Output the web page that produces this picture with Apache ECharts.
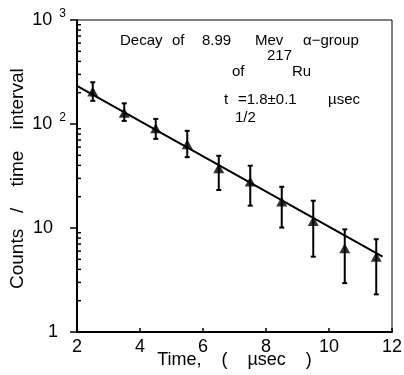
<!DOCTYPE html>
<html><head><meta charset="utf-8">
<script src="https://cdn.jsdelivr.net/npm/echarts@6/dist/echarts.min.js"></script>
<style>html,body{margin:0;padding:0;background:#fff}#c{width:404px;height:375px}</style>
</head><body><div id="c"></div>
<script>
// Data
const times = [2.5, 3.5, 4.5, 5.5, 6.5, 7.5, 8.5, 9.5, 10.5, 11.5];
const counts = [205, 128, 91, 64, 37.5, 28, 18, 11.7, 6.4, 5.3];
const errLow = [167, 107, 72, 48, 23.2, 16.4, 10.1, 5.3, 2.95, 2.3];
const errHigh = [252, 158, 112, 86, 49.5, 39.7, 24.9, 18.3, 9.7, 7.8];
const fitTimes = [2, 11.7];
const fitCounts = [233, 5.3];
const xTicks = [2, 4, 6, 8, 10, 12];
const yTickValues = [1, 10, 100, 1000];
const yTickBase = ['1', '10', '10', '10'];
const yTickSup = ['', '', '2', '3'];
const yMinorTicks = [2,3,4,5,6,7,8,9,20,30,40,50,60,70,80,90,200,300,400,500,600,700,800,900];

const FONT = 'Liberation Sans, Arial, sans-serif';
const chart = echarts.init(document.getElementById('c'), null, {renderer: 'canvas'});

const pts = times.map((t, i) => [t, counts[i]]);
const errs = times.map((t, i) => [t, errLow[i], errHigh[i]]);
const fit = fitTimes.map((t, i) => [t, fitCounts[i]]);
const minor = yMinorTicks.map(v => [xTicks[0], v]);

function yLabel(v) {
  const i = yTickValues.indexOf(Math.round(v));
  if (i < 0) return '';
  if (yTickSup[i]) return '{b|' + yTickBase[i] + '}{s|' + yTickSup[i] + '}';
  if (yTickBase[i].length === 2) return '{b|' + yTickBase[i] + '}{p|}';
  return '{b|' + yTickBase[i] + '}{q|}';
}

const txt = (x, y, s, size) => ({
  type: 'text', x: x, y: y,
  style: {text: s, font: (size || 15) + 'px ' + FONT, fill: '#000', textVerticalAlign: 'middle'}
});

chart.setOption({
  animation: false,
  backgroundColor: '#fff',
  grid: {left: 77, right: 12, top: 20, bottom: 43, show: true, borderColor: '#000', borderWidth: 1,
    containLabel: false, outerBoundsMode: 'none'},
  xAxis: {
    type: 'value', min: 2, max: 12, interval: 2,
    name: 'Time,    (    \u00b5sec    )', nameLocation: 'middle', nameGap: 19, nameMoveOverlap: false,
    nameTextStyle: {fontSize: 18, fontFamily: FONT, color: '#000'},
    axisLine: {lineStyle: {color: '#000', width: 2}},
    axisTick: {inside: true, length: 4, lineStyle: {color: '#000', width: 1.5}},
    axisLabel: {fontSize: 18, fontFamily: FONT, color: '#000', margin: 6, lineHeight: 18,
      formatter: v => xTicks.indexOf(v) >= 0 ? String(v) : ''},
    splitLine: {show: false}
  },
  yAxis: {
    type: 'log', logBase: 10, min: 1, max: 1000,
    name: 'Counts   /    time    interval ', nameLocation: 'middle', nameGap: 50, nameRotate: 90,
    nameMoveOverlap: false,
    nameTextStyle: {fontSize: 19, fontFamily: FONT, color: '#000'},
    axisLine: {lineStyle: {color: '#000', width: 2}},
    axisTick: {inside: false, length: 7, lineStyle: {color: '#000', width: 1.5}},
    axisLabel: {margin: 11, color: '#000', formatter: yLabel,
      rich: {
        b: {fontSize: 18, fontFamily: FONT, color: '#000', lineHeight: 20},
        s: {fontSize: 12, fontFamily: FONT, color: '#000', padding: [0, 0, 12, 7]},
        p: {width: 13},
        q: {width: 8}
      }},
    splitLine: {show: false}
  },
  series: [
    {type: 'custom', data: minor, clip: false, z: 5, silent: true,
      renderItem: function (params, api) {
        const p = api.coord([api.value(0), api.value(1)]);
        return {type: 'line', shape: {x1: p[0], y1: p[1], x2: p[0] + 4, y2: p[1]},
          style: {stroke: '#000', lineWidth: 1.5}};
      }},
    {type: 'line', data: fit, showSymbol: false, lineStyle: {color: '#000', width: 2}, z: 2},
    {type: 'custom', data: errs, z: 3,
      renderItem: function (params, api) {
        const lo = api.coord([api.value(0), api.value(1)]);
        const hi = api.coord([api.value(0), api.value(2)]);
        const w = 2.5;
        const st = {stroke: '#000', lineWidth: 2};
        return {type: 'group', children: [
          {type: 'line', shape: {x1: lo[0], y1: lo[1], x2: hi[0], y2: hi[1]}, style: st},
          {type: 'line', shape: {x1: lo[0] - w, y1: lo[1], x2: lo[0] + w, y2: lo[1]}, style: st},
          {type: 'line', shape: {x1: hi[0] - w, y1: hi[1], x2: hi[0] + w, y2: hi[1]}, style: st}
        ]};
      }},
    {type: 'scatter', data: pts, symbol: 'triangle', symbolSize: [11, 10],
      itemStyle: {color: '#000'}, z: 4}
  ],
  graphic: [
    txt(120, 41, 'Decay'), txt(172, 41, 'of'), txt(202, 41, '8.99'),
    txt(255, 41, 'Mev'), txt(303, 41, '\u03b1\u2212group'),
    txt(267, 56, '217'),
    txt(232, 72, 'of'), txt(292, 72, 'Ru'),
    txt(224, 100, 't'), txt(238, 100, '=1.8\u00b10.1'), txt(328, 100, '\u00b5sec'),
    txt(235, 118, '1/2')
  ]
});
</script>
</body></html>
